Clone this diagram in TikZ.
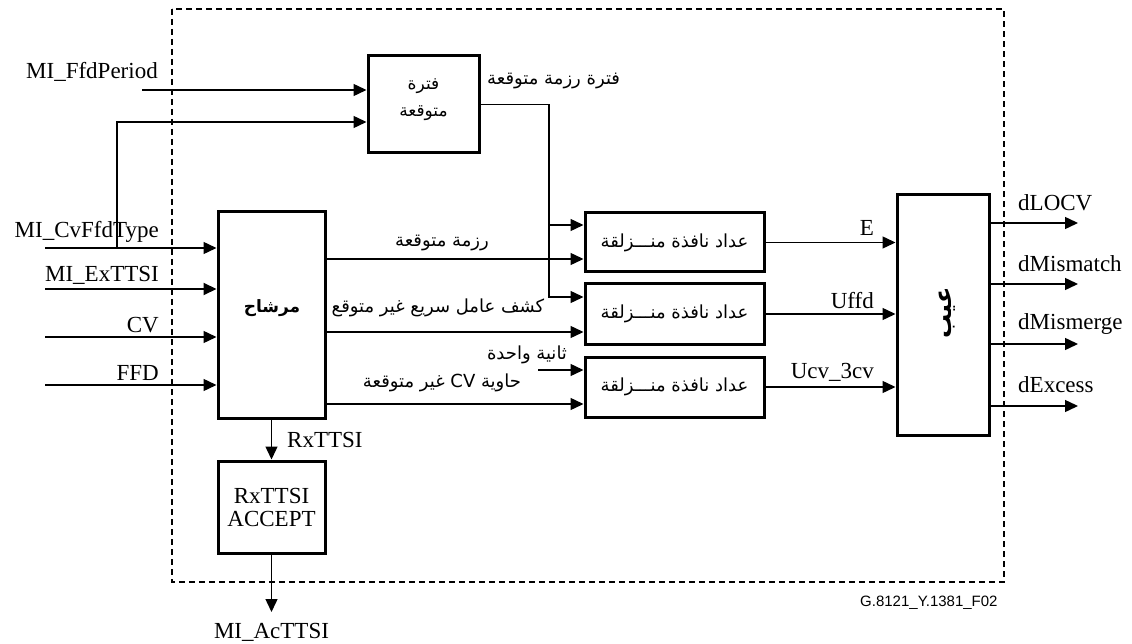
\documentclass[tikz,border=0pt]{standalone}
\usepackage{fontspec}
\setmainfont{Liberation Serif}
\newfontfamily\arabicfont[Script=Arabic]{DejaVu Sans}
\newfontfamily\footfont{Liberation Sans}
\TeXXeTstate=1
\usetikzlibrary{arrows.meta}
\begin{document}
\begin{tikzpicture}[x=1pt,y=-1pt,
  box/.style={draw,line width=3pt,inner sep=0pt},
  con/.style={line width=1.4pt},
  arr/.style={con,-{Triangle[length=13pt,width=12pt]}},
  lat/.style={font=\fontsize{23}{26}\selectfont,inner sep=0pt},
  ar/.style={font=\arabicfont\fontsize{18}{27}\selectfont,inner sep=0pt},
  frame/.style={line width=1.2pt,dash pattern=on 6pt off 4pt}]
\useasboundingbox (0,0) rectangle (1132,644);
% dashed frame
\draw[frame] (172,9) rectangle (1004,582);
% boxes
\node[box,minimum width=111pt,minimum height=97pt] (per) at (423.5,104.5) {};
\node[ar,align=center,font=\arabicfont\fontsize{17}{27}\selectfont] (pertxt) at (423.5,100) {\beginR فترة\endR\\\beginR متوقعة\endR};
\node[box,minimum width=107pt,minimum height=206pt] (fil) at (271.5,315) {};
\node[ar,font=\arabicfont\bfseries\fontsize{17}{20}\selectfont] (filtxt) at (272,308) {\beginR مرشاح\endR};
\node[box,minimum width=107pt,minimum height=92pt,align=center,lat,inner sep=0pt] (rx) at (271.5,507) {RxTTSI\\[-3pt]ACCEPT};
\node[box,minimum width=179pt,minimum height=59pt] (c1) at (674.5,242.5) {};
\node[box,minimum width=179pt,minimum height=60pt] (c2) at (674.5,314) {};
\node[box,minimum width=179pt,minimum height=60pt] (c3) at (674.5,387) {};
\node[ar] (c1t) at (c1.center) {\beginR عداد نافذة منـــزلقة\endR};
\node[ar] (c2t) at (c2.center) {\beginR عداد نافذة منـــزلقة\endR};
\node[ar] (c3t) at (c3.center) {\beginR عداد نافذة منـــزلقة\endR};
\node[box,minimum width=92pt,minimum height=240pt] (big) at (943,315) {};
\node[ar,rotate=90,font=\arabicfont\bfseries\fontsize{24}{28}\selectfont] (bigt) at (947,313) {\beginR عيب\endR};
% inputs to expected period box
\coordinate (ifp) at (142,90);
\coordinate (k) at (117,122);
\node[lat,anchor=east] (lfp) at (158,72) {MI\_FfdPeriod};
\draw[arr] (ifp) -- (ifp -| per.west);
% filter inputs
\coordinate (i1) at (45,248);
\coordinate (i2) at (45,289);
\coordinate (i3) at (45,337);
\coordinate (i4) at (45,385);
\draw[arr] (i1) -- (i1 -| fil.west);
\draw[arr,line width=2pt] (i2) -- (i2 -| fil.west);
\draw[arr] (i3) -- (i3 -| fil.west);
\draw[arr] (i4) -- (i4 -| fil.west);
\draw[arr] (k |- i1) -- (k) -- (k -| per.west);
\node[lat,anchor=east] (l1) at (159,232) {MI\_CvFfdType};
\node[lat,anchor=east] (l2) at (159,275) {MI\_ExTTSI};
\node[lat,anchor=east] (l3) at (159,325) {CV};
\node[lat,anchor=east] (l4) at (159,373) {FFD};
% expected period output
\coordinate (v1) at (549,225);
\coordinate (v2) at (549,297);
\draw[arr] (per.east) -| (v2) -- (v2 -| c2.west);
\draw[arr] (v1) -- (v1 -| c1.west);
\node[ar,anchor=west] (lper) at (487,81) {\beginR فترة رزمة متوقعة\endR};
% filter outputs
\coordinate (o1) at (fil.east |- 0,259);
\coordinate (o2) at (fil.east |- 0,332);
\coordinate (o3) at (fil.east |- 0,404);
\draw[arr] (o1) -- (o1 -| c1.west);
\draw[arr] (o2) -- (o2 -| c2.west);
\draw[arr] (o3) -- (o3 -| c3.west);
\node[ar] (lo1) at (442,243) {\beginR رزمة متوقعة\endR};
\node[ar] (lo2) at (438,308) {\beginR كشف عامل سريع غير متوقع\endR};
\node[ar] (lo3) at (442,383) {\beginR حاوية \beginL CV\endL{} غير متوقعة\endR};
\coordinate (s1) at (538,370);
\draw[arr] (s1) -- (s1 -| c3.west);
\node[ar] (ls1) at (527,355) {\beginR ثانية واحدة\endR};
% counter outputs
\draw[arr] (c1.east) -- (c1.east -| big.west);
\draw[arr] (c2.east) -- (c2.east -| big.west);
\draw[arr] (c3.east) -- (c3.east -| big.west);
\node[lat,anchor=east] (le) at (874,228) {E};
\node[lat,anchor=east] (lu) at (874,301) {Uffd};
\node[lat,anchor=east] (lc) at (874,372) {Ucv\_3cv};
% outputs
\coordinate (d1) at (1078,223);
\coordinate (d2) at (1078,284);
\coordinate (d3) at (1078,344);
\coordinate (d4) at (1078,406);
\draw[arr] (big.east |- d1) -- (d1);
\draw[arr] (big.east |- d2) -- (d2);
\draw[arr] (big.east |- d3) -- (d3);
\draw[arr] (big.east |- d4) -- (d4);
\node[lat,anchor=west] (ld1) at (1018,203) {dLOCV};
\node[lat,anchor=west] (ld2) at (1018,264) {dMismatch};
\node[lat,anchor=west] (ld3) at (1018,324) {dMismerge};
\node[lat,anchor=west] (ld4) at (1018,385) {dExcess};
% RxTTSI
\draw[arr] (fil.south) -- (rx.north);
\node[lat,anchor=west] (lrx) at (287,440) {RxTTSI};
\coordinate (acc) at (271.5,612);
\draw[arr] (rx.south) -- (acc);
\node[lat] (lacc) at (271.5,632) {MI\_AcTTSI};
\node[font=\footfont\fontsize{15}{18}\selectfont,anchor=west,inner sep=0pt] (fig) at (860,603) {G.8121\_Y.1381\_F02};
\end{tikzpicture}
\end{document}
